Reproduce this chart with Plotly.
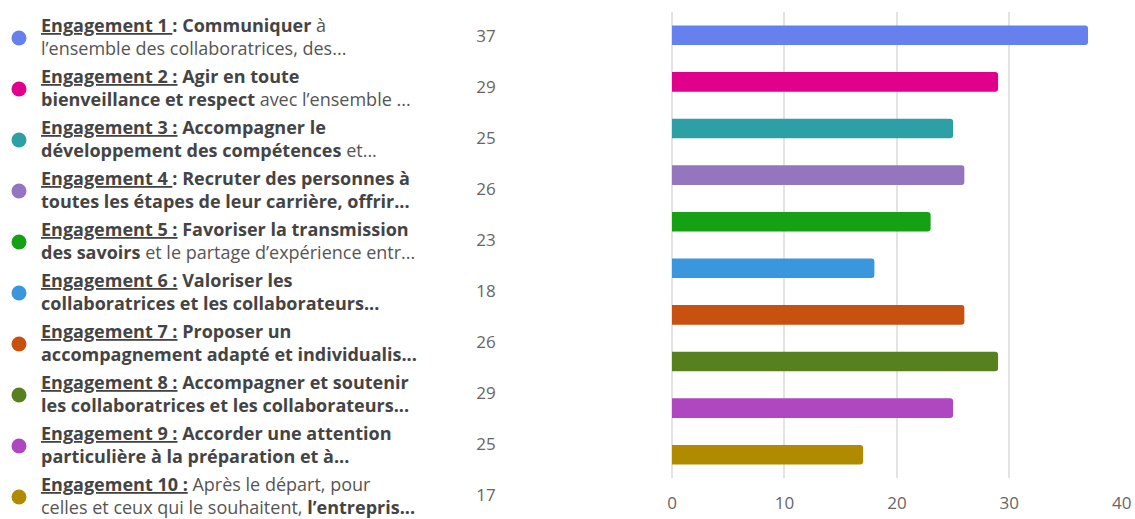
import plotly.graph_objects as go

categories = ["Engagement 1", "Engagement 2", "Engagement 3", "Engagement 4", "Engagement 5",
              "Engagement 6", "Engagement 7", "Engagement 8", "Engagement 9", "Engagement 10"]
values = [37, 29, 25, 26, 23, 18, 26, 29, 25, 17]
colors = ["#6680EE", "#E0008C", "#2CA0A5", "#9575BE", "#16A014",
          "#3A97DE", "#C9510F", "#57801E", "#AF47C0", "#B08A00"]
labels = [
    "<u>Engagement 1 </u>: Communiquer<span style='font-weight:normal;color:#555'> à</span><br><span style='font-weight:normal;color:#555'>l’ensemble des collaboratrices, des...</span>",
    "<u>Engagement 2 :</u> Agir en toute<br>bienveillance et respect<span style='font-weight:normal;color:#555'> avec l’ensemble ...</span>",
    "<u>Engagement 3 :</u> Accompagner le<br>développement des compétences<span style='font-weight:normal;color:#555'> et...</span>",
    "<u>Engagement 4 </u>: Recruter des personnes à<br>toutes les étapes de leur carrière, offrir...",
    "<u>Engagement 5 :</u> Favoriser la transmission<br>des savoirs<span style='font-weight:normal;color:#555'> et le partage d’expérience entr...</span>",
    "<u>Engagement 6 :</u> Valoriser les<br>collaboratrices et les collaborateurs...",
    "<u>Engagement 7 :</u> Proposer un<br>accompagnement adapté et individualis...",
    "<u>Engagement 8 :</u> Accompagner et soutenir<br>les collaboratrices et les collaborateurs...",
    "<u>Engagement 9 :</u> Accorder une attention<br>particulière à la préparation et à...",
    "<u>Engagement 10 :</u><span style='font-weight:normal;color:#555'> Après le départ, pour</span><br><span style='font-weight:normal;color:#555'>celles et ceux qui le souhaitent, </span>l’entrepris...",
]
x_ticks = [0, 10, 20, 30, 40]

FONT = "Open Sans"
idx = list(range(len(categories)))

W, H = 1135, 519

fig = go.Figure()

fig.add_trace(go.Bar(
    x=values, y=categories, orientation="h",
    marker=dict(color=colors, line=dict(width=0), cornerradius=3),
    width=0.42, xaxis="x", yaxis="y", showlegend=False, hoverinfo="x+y",
))

fig.add_trace(go.Scatter(
    x=[19] * len(idx), y=idx, mode="markers",
    marker=dict(color=colors, size=15, line=dict(width=0)),
    xaxis="x2", yaxis="y2", showlegend=False, hoverinfo="skip",
))

fig.add_trace(go.Scatter(
    x=[486] * len(idx), y=idx, mode="text",
    text=[str(v) for v in values], textposition="middle center",
    textfont=dict(family=FONT, size=17, color="#666"),
    xaxis="x2", yaxis="y2", showlegend=False, hoverinfo="skip",
))

annotations = []
for i, lab in enumerate(labels):
    annotations.append(dict(
        x=39, y=i, xref="x2", yref="y2", xanchor="left", yanchor="middle",
        align="left", showarrow=False, text="<b>" + lab + "</b>", yshift=2,
        font=dict(family=FONT, size=18, color="#444"),
    ))

fig.update_layout(
    width=W, height=H,
    margin=dict(l=0, r=0, t=0, b=0),
    paper_bgcolor="white", plot_bgcolor="rgba(0,0,0,0)",
    xaxis=dict(domain=[672 / W, 1122 / W], range=[0, 40.02], tickvals=x_ticks,
               showgrid=True, gridcolor="#e3e3e3", gridwidth=1.5, zeroline=True,
               zerolinecolor="#e3e3e3", zerolinewidth=1.5, showline=False,
               tickfont=dict(family=FONT, size=17, color="#666"), ticks="",
               ticklabelstandoff=13, automargin=False, anchor="y", fixedrange=True),
    yaxis=dict(domain=[1 - 478 / H, 1 - 12 / H], autorange="reversed",
               showticklabels=False, showgrid=False, zeroline=False, ticks="",
               automargin=False, anchor="x", fixedrange=True),
    xaxis2=dict(domain=[0, 1], range=[0, W], visible=False, anchor="y2",
                automargin=False, fixedrange=True),
    yaxis2=dict(domain=[0, 1], range=[(H - 38) / 51, -38 / 51], visible=False,
                anchor="x2", automargin=False, fixedrange=True),
    annotations=annotations,
    font=dict(family=FONT),
)

fig.write_html("out.html", config={"displayModeBar": False},
               post_script="document.body.style.margin='0';document.body.style.overflow='hidden';")
